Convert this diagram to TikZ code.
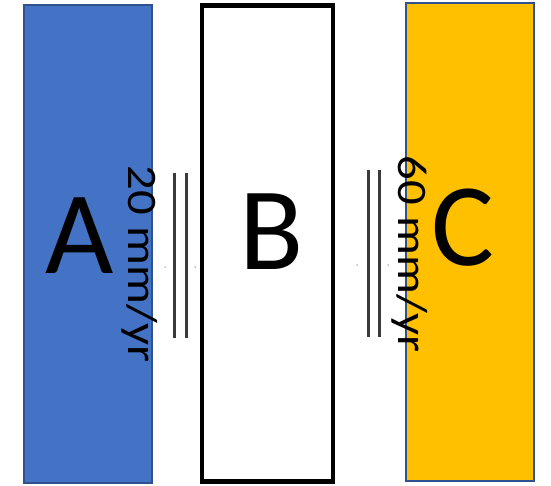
\documentclass[tikz,border=0pt]{standalone}
\usepackage{fontspec}
\setmainfont{Carlito}
\usetikzlibrary{positioning}
\definecolor{plateBlue}{HTML}{4472C4}
\definecolor{plateGold}{HTML}{FFC000}
\definecolor{plateEdge}{HTML}{2F528F}
\definecolor{gapLine}{HTML}{3A3A3A}
\tikzset{
  plate/.style={draw=plateEdge, line width=2pt, minimum width=128pt, minimum height=478pt, inner sep=0pt},
  midplate/.style={draw=black, line width=4.5pt, fill=white, minimum width=131pt, minimum height=476pt, inner sep=0pt},
  platename/.style={font=\fontsize{118}{118}\selectfont, inner sep=0pt},
  ratetag/.style={font=\fontsize{42}{42}\selectfont, rotate=-90, xscale=1.16, inner sep=0pt},
  gapline/.style={gapLine, line width=3pt},
  gapdot/.style={circle, fill=black!45, minimum size=1.5pt, inner sep=0pt}
}
\begin{document}
\begin{tikzpicture}[x=1pt, y=-1pt]
  \useasboundingbox (0,0) rectangle (551,486);
  % plates
  \node[plate, fill=plateBlue] (A) at (88,244) {};
  \node[midplate] (B) at (267.5,243.5) {};
  \node[plate, fill=plateGold] (C) at (470,242) {};
  \node[platename] (nA) at (80,236) {A};
  \node[platename] (nB) at (272,232) {B};
  \node[platename] (nC) at (463,228) {C};
  % rates
  \node[ratetag] (rAB) at (140,264) {20 mm/yr};
  \node[ratetag] (rBC) at (410,254) {60 mm/yr};
  % boundary lines
  \coordinate (l1t) at (174,173); \coordinate (l1b) at (174,338);
  \coordinate (l2t) at (186,173); \coordinate (l2b) at (186,338);
  \coordinate (l3t) at (368,170); \coordinate (l3b) at (368,337);
  \coordinate (l4t) at (379,170); \coordinate (l4b) at (379,337);
  \draw[gapline] (l1t) -- (l1b);
  \draw[gapline] (l2t) -- (l2b);
  \draw[gapline] (l3t) -- (l3b);
  \draw[gapline] (l4t) -- (l4b);
  \node[gapdot] (d1) at (165,267) {};
  \node[gapdot] (d2) at (195,267) {};
  \node[gapdot] (d3) at (357,265) {};
  \node[gapdot] (d4) at (388,265) {};
\end{tikzpicture}
\end{document}
